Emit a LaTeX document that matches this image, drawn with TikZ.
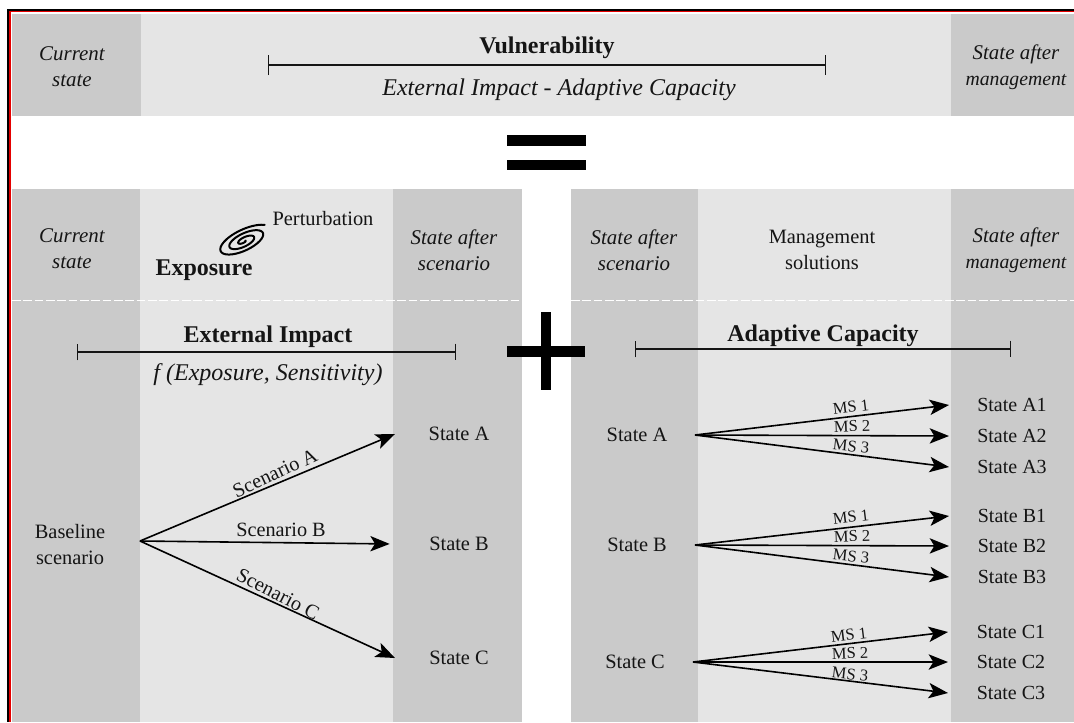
\documentclass[tikz,border=0pt]{standalone}
\usepackage{fontspec}
\setmainfont{Liberation Serif}
\usetikzlibrary{arrows.meta}
\definecolor{darkband}{HTML}{CACACA}
\definecolor{lightband}{HTML}{E5E5E5}
\definecolor{inkc}{HTML}{151515}
\newcommand{\mgline}{{\fontsize{14.8pt}{19.5pt}\selectfont management}}
\tikzset{
  x=0.75pt,y=-0.75pt,
  band/.style={fill=darkband,draw=none},
  lband/.style={fill=lightband,draw=none},
  lbl/.style={font=\fontsize{15.3pt}{19.5pt}\selectfont,align=center,inner sep=0pt,outer sep=0pt,text=inkc},
  ital/.style={lbl,font=\fontsize{15.7pt}{19.5pt}\selectfont\itshape},
  head/.style={lbl,font=\fontsize{18pt}{19pt}\selectfont\bfseries},
  formula/.style={lbl,font=\fontsize{18pt}{19pt}\selectfont\itshape},
  arrowlbl/.style={lbl,font=\fontsize{15.2pt}{15pt}\selectfont},
  mslbl/.style={lbl,font=\fontsize{12.4pt}{13pt}\selectfont},
  statel/.style={lbl,minimum width=96pt},
  statem/.style={lbl,minimum width=87pt},
  stater/.style={lbl,font=\fontsize{15pt}{19.5pt}\selectfont,minimum width=94.5pt},
  arr/.style={-{Stealth[length=14.5pt,width=11.5pt,inset=3.5pt]},line width=1.2pt,draw=black},
  msarr/.style={arr},
  span/.style={{Bar[width=#1,line width=1.1pt]}-{Bar[width=#1,line width=1.1pt]},line width=1.3pt,draw=inkc},
  span/.default=12.5pt,
  sep/.style={draw=white,line width=1.4pt,dash pattern=on 6.5pt off 2pt},
}
\begin{document}
\begin{tikzpicture}
\useasboundingbox (0,0) rectangle (1074,722);
\begin{scope}
\clip (0,0) rectangle (1074,722);
\fill[white] (0,0) rectangle (1074,722);
% frame
\fill[black] (7,9) rectangle (1074,11.2);
\fill[black] (7,9) rectangle (9.3,722);
\fill[red!90!black] (9.3,11.2) rectangle (1074,12.4);
\fill[red!90!black] (9.3,11.2) rectangle (10.5,722);
% top bands
\path[band] (12,14) rectangle (141,116);
\path[lband] (141,14) rectangle (951,116);
\path[band] (951,14) rectangle (1074,116);
% lower bands
\path[band] (12,189) rectangle (140,722);
\path[lband] (140,189) rectangle (393,722);
\path[band] (393,189) rectangle (522,722);
\path[band] (571,189) rectangle (698,722);
\path[lband] (698,189) rectangle (951,722);
\path[band] (951,189) rectangle (1074,722);
\path[sep] (12,300.5) -- (522,300.5);
\path[sep] (571,300.5) -- (1074,300.5);
% equals and plus
\fill[black] (507,135) rectangle (586,145.5);
\fill[black] (507,159.5) rectangle (586,170);
\fill[black] (507,346) rectangle (585,357);
\fill[black] (541,312) rectangle (551,390);
% top row
\node[ital] (curA) at (72,67) {Current\\state};
\node[head] (vuln) at (547,48) {Vulnerability};
\coordinate (vl) at (268,65);
\coordinate (vr) at (826,65);
\draw[span=15pt] (vl) -- (vr);
\node[formula] (vf) at (559,90) {External Impact - Adaptive Capacity};
\node[ital] (afterA) at (1016,67) {State after\\\mgline};
% second row
\node[ital] (curB) at (72,249) {Current\\state};
\node[lbl] (pert) at (323,219) {Perturbation};
\node[head] (expo) at (204,270) {Exposure};
\draw[black,line width=1.5pt,line cap=round,rotate around={25:(244,241)}]
  plot[domain=0:1030,samples=100,smooth,variable=\t]
  ({244+(1.5+\t/1030*28)*cos(\t+20)},{241+0.40*(1.5+\t/1030*28)*sin(\t+20)});
\node[ital] (sasA) at (454,250) {State after\\scenario};
\node[ital] (sasB) at (634,250) {State after\\scenario};
\node[lbl] (mgmt) at (822,250) {Management\\solutions};
\node[ital] (afterB) at (1016,250) {State after\\\mgline};
% heads
\node[head] (ext) at (268,337) {External Impact};
\coordinate (el) at (77,352);
\coordinate (er) at (456,352);
\draw[span] (el) -- (er);
\node[formula] (ef) at (268,375) {f (Exposure, Sensitivity)};
\node[head] (ada) at (823,336) {Adaptive Capacity};
\coordinate (al) at (635,349);
\coordinate (ar) at (1011,349);
\draw[span] (al) -- (ar);
% left graph
\node[lbl] (base) at (70,545) {Baseline\\scenario};
\coordinate (bp) at (140,541);
\node[statel] (sa) at (459,434) {State A};
\node[statel] (sb) at (459,544) {State B};
\node[statel] (sc) at (459,658) {State C};
\draw[arr] (bp) -- (sa.west);
\draw[arr,shorten >=4pt] (bp) -- (sb.west);
\draw[arr] (bp) -- (sc.west);
\node[arrowlbl,rotate=25] (la) at (275,473) {Scenario A};
\node[arrowlbl] (lb) at (281,530) {Scenario B};
\node[arrowlbl,rotate=-27] (lc) at (278,594) {Scenario C};
% right graph
\node[statem] (ra) at (637,435) {State A};
\node[statem] (rb) at (637,545) {State B};
\node[statem] (rc) at (635,662) {State C};
\node[stater] (a1) at (1012,405) {State A1};
\node[stater] (a2) at (1012,436) {State A2};
\node[stater] (a3) at (1012,467) {State A3};
\node[stater] (b1) at (1012,516) {State B1};
\node[stater] (b2) at (1012,546) {State B2};
\node[stater] (b3) at (1012,577) {State B3};
\node[stater] (c1) at (1011,632) {State C1};
\node[stater] (c2) at (1011,662) {State C2};
\node[stater] (c3) at (1011,693) {State C3};
\foreach \s/\t in {ra/a1,ra/a2,ra/a3,rb/b1,rb/b2,rb/b3,rc/c1,rc/c2,rc/c3}
  \draw[msarr] (\s.east) -- (\t.west);
\node[mslbl,rotate=7] (ma1) at (851,407) {MS 1};
\node[mslbl,rotate=2] (ma2) at (852,426) {MS 2};
\node[mslbl,rotate=-6] (ma3) at (851,446) {MS 3};
\node[mslbl,rotate=7] (mb1) at (851,517) {MS 1};
\node[mslbl,rotate=2] (mb2) at (852,536) {MS 2};
\node[mslbl,rotate=-6] (mb3) at (851,556) {MS 3};
\node[mslbl,rotate=7] (mc1) at (849,635) {MS 1};
\node[mslbl,rotate=2] (mc2) at (850,653) {MS 2};
\node[mslbl,rotate=-6] (mc3) at (850,674) {MS 3};
\end{scope}
\end{tikzpicture}
\end{document}
